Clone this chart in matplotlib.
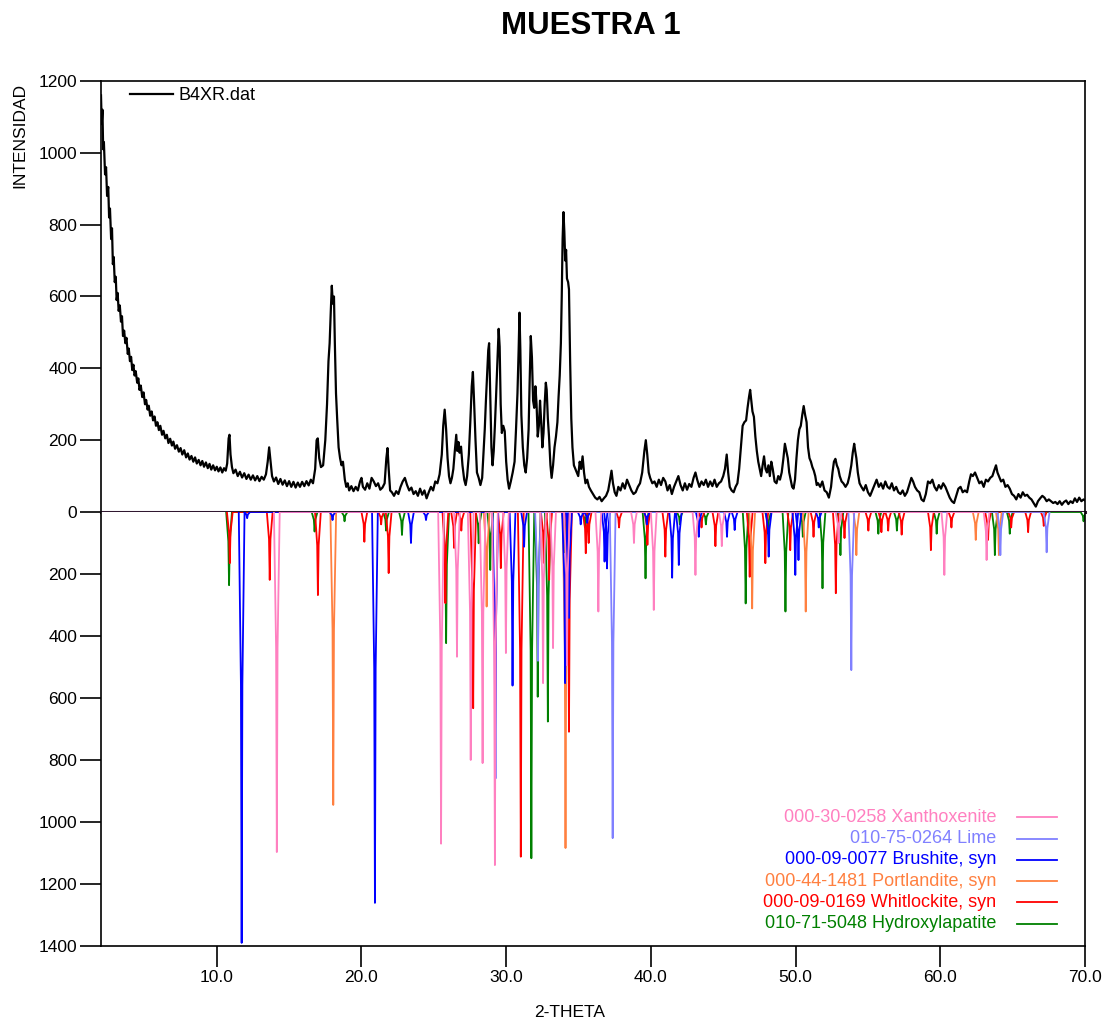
import matplotlib
matplotlib.use("Agg")
import matplotlib.pyplot as plt

plt.rcParams["font.family"] = ["Liberation Sans", "DejaVu Sans"]

two_theta = [
    2.00, 2.05, 2.10, 2.15, 2.20, 2.28, 2.35, 2.42, 2.50, 2.56, 2.62, 2.70, 2.76, 2.82, 2.88,
    2.95, 3.02, 3.08, 3.15, 3.22, 3.30, 3.38, 3.45, 3.52, 3.60, 3.68, 3.76, 3.85, 3.92, 4.00,
    4.08, 4.16, 4.24, 4.32, 4.40, 4.50, 4.58, 4.66, 4.75, 4.85, 4.94, 5.04, 5.12, 5.22, 5.30,
    5.40, 5.50, 5.60, 5.70, 5.80, 5.90, 6.00, 6.10, 6.22, 6.32, 6.44, 6.55, 6.66, 6.78, 6.90,
    7.00, 7.12, 7.25, 7.38, 7.50, 7.62, 7.75, 7.88, 8.00, 8.12, 8.25, 8.38, 8.50, 8.62, 8.75,
    8.88, 9.00, 9.12, 9.25, 9.38, 9.50, 9.62, 9.75, 9.88, 10.00, 10.12, 10.25, 10.38, 10.50,
    10.62, 10.72, 10.82, 10.88, 10.95, 11.05, 11.15, 11.30, 11.45, 11.60, 11.75, 11.90, 12.05,
    12.20, 12.35, 12.50, 12.65, 12.80, 12.95, 13.10, 13.25, 13.40, 13.52, 13.62, 13.72, 13.82,
    13.95, 14.10, 14.25, 14.40, 14.55, 14.70, 14.85, 15.00, 15.15, 15.30, 15.45, 15.60, 15.75,
    15.90, 16.05, 16.20, 16.35, 16.50, 16.65, 16.80, 16.90, 16.98, 17.08, 17.20, 17.35, 17.50,
    17.62, 17.72, 17.80, 17.88, 17.95, 18.02, 18.10, 18.16, 18.24, 18.32, 18.42, 18.52, 18.62,
    18.72, 18.85, 18.95, 19.05, 19.15, 19.30, 19.45, 19.60, 19.75, 19.90, 20.00, 20.10, 20.25,
    20.40, 20.55, 20.70, 20.85, 21.00, 21.15, 21.30, 21.45, 21.60, 21.72, 21.80, 21.88, 21.98,
    22.10, 22.25, 22.40, 22.55, 22.70, 22.85, 23.00, 23.15, 23.30, 23.45, 23.60, 23.75, 23.90,
    24.05, 24.20, 24.35, 24.50, 24.65, 24.80, 24.95, 25.10, 25.25, 25.40, 25.55, 25.65, 25.75,
    25.85, 25.95, 26.05, 26.15, 26.25, 26.35, 26.45, 26.55, 26.62, 26.70, 26.78, 26.88, 26.98,
    27.10, 27.20, 27.30, 27.42, 27.52, 27.62, 27.70, 27.78, 27.88, 27.98, 28.10, 28.22, 28.34,
    28.44, 28.52, 28.60, 28.68, 28.76, 28.82, 28.90, 28.98, 29.06, 29.14, 29.22, 29.30, 29.40,
    29.48, 29.55, 29.62, 29.70, 29.80, 29.90, 30.00, 30.10, 30.20, 30.32, 30.45, 30.58, 30.68,
    30.78, 30.86, 30.92, 30.98, 31.05, 31.15, 31.25, 31.35, 31.45, 31.55, 31.62, 31.70, 31.78,
    31.86, 31.94, 32.02, 32.10, 32.18, 32.26, 32.34, 32.42, 32.50, 32.58, 32.66, 32.74, 32.80,
    32.88, 32.96, 33.06, 33.14, 33.24, 33.34, 33.44, 33.54, 33.62, 33.70, 33.78, 33.84, 33.90,
    33.96, 34.02, 34.08, 34.14, 34.20, 34.28, 34.34, 34.42, 34.50, 34.58, 34.68, 34.78, 34.88,
    34.98, 35.08, 35.18, 35.28, 35.38, 35.48, 35.60, 35.72, 35.85, 36.00, 36.15, 36.30, 36.45,
    36.60, 36.75, 36.90, 37.05, 37.18, 37.28, 37.38, 37.50, 37.62, 37.75, 37.90, 38.05, 38.20,
    38.35, 38.50, 38.65, 38.80, 38.95, 39.10, 39.25, 39.40, 39.55, 39.65, 39.75, 39.85, 39.95,
    40.10, 40.25, 40.40, 40.55, 40.70, 40.85, 41.00, 41.15, 41.30, 41.45, 41.60, 41.75, 41.90,
    42.05, 42.20, 42.35, 42.50, 42.65, 42.80, 42.95, 43.08, 43.20, 43.35, 43.50, 43.65, 43.80,
    43.95, 44.10, 44.25, 44.40, 44.55, 44.70, 44.85, 45.00, 45.12, 45.24, 45.34, 45.45, 45.58,
    45.72, 45.85, 45.98, 46.10, 46.22, 46.34, 46.46, 46.58, 46.68, 46.78, 46.86, 46.94, 47.02,
    47.12, 47.22, 47.32, 47.42, 47.52, 47.62, 47.72, 47.82, 47.92, 48.02, 48.12, 48.22, 48.32,
    48.42, 48.55, 48.68, 48.80, 48.92, 49.04, 49.16, 49.26, 49.36, 49.46, 49.56, 49.66, 49.76,
    49.86, 49.96, 50.06, 50.16, 50.26, 50.36, 50.46, 50.56, 50.66, 50.76, 50.86, 50.96, 51.06,
    51.16, 51.26, 51.36, 51.46, 51.56, 51.70, 51.85, 52.00, 52.15, 52.30, 52.45, 52.55, 52.65,
    52.75, 52.85, 52.95, 53.05, 53.18, 53.30, 53.45, 53.60, 53.72, 53.85, 53.95, 54.05, 54.12,
    54.20, 54.30, 54.42, 54.55, 54.70, 54.85, 55.00, 55.15, 55.30, 55.45, 55.60, 55.75, 55.90,
    56.05, 56.20, 56.35, 56.50, 56.65, 56.80, 56.95, 57.10, 57.25, 57.40, 57.55, 57.70, 57.85,
    58.00, 58.12, 58.25, 58.40, 58.55, 58.70, 58.85, 59.00, 59.15, 59.30, 59.45, 59.60, 59.75,
    59.90, 60.05, 60.20, 60.35, 60.50, 60.65, 60.80, 60.95, 61.10, 61.25, 61.40, 61.55, 61.70,
    61.85, 62.00, 62.12, 62.25, 62.40, 62.55, 62.70, 62.85, 63.00, 63.15, 63.30, 63.45, 63.60,
    63.72, 63.85, 63.95, 64.05, 64.20, 64.35, 64.50, 64.65, 64.80, 64.95, 65.10, 65.25, 65.40,
    65.55, 65.70, 65.85, 66.00, 66.15, 66.30, 66.45, 66.60, 66.75, 66.90, 67.05, 67.20, 67.35,
    67.50, 67.65, 67.80, 67.95, 68.10, 68.25, 68.40, 68.55, 68.70, 68.85, 69.00, 69.15, 69.30,
    69.45, 69.60, 69.75, 69.90, 70.00,
]
intensity = [
    1160, 1080, 1120, 1010, 1030, 940, 960, 880, 905, 820, 845, 760, 790, 690, 710,
    640, 655, 590, 610, 560, 575, 530, 545, 490, 505, 470, 485, 440, 455, 420,
    432, 395, 410, 380, 392, 360, 372, 340, 352, 320, 333, 300, 312, 285, 296,
    268, 280, 255, 266, 240, 250, 228, 240, 215, 226, 205, 215, 192, 204, 185,
    196, 176, 186, 168, 178, 160, 172, 152, 163, 146, 156, 140, 152, 135, 145,
    130, 142, 126, 138, 122, 134, 118, 130, 116, 126, 113, 124, 110, 122,
    115, 135, 205, 215, 160, 125, 108, 118, 100, 112, 96, 108, 92,
    104, 90, 102, 88, 100, 86, 98, 90, 105, 140, 180, 140, 100,
    85, 96, 78, 92, 76, 88, 72, 86, 70, 84, 68, 82, 70,
    84, 72, 86, 74, 90, 80, 120, 200, 205, 150, 125, 130, 200,
    300, 420, 470, 560, 630, 580, 600, 470, 330, 260, 180, 150, 130,
    140, 90, 70, 80, 60, 72, 58, 70, 60, 85, 95, 70, 62,
    80, 65, 95, 85, 72, 80, 62, 68, 80, 150, 178, 120, 60,
    55, 45, 58, 50, 70, 85, 95, 75, 60, 68, 50, 58, 45,
    65, 48, 60, 38, 55, 70, 60, 85, 80, 105, 160, 240, 285,
    230, 150, 100, 80, 95, 120, 170, 215, 170, 195, 165, 182, 130,
    90, 75, 100, 160, 250, 350, 390, 310, 200, 110, 95, 75, 95,
    170, 230, 310, 380, 450, 470, 330, 180, 130, 170, 240, 320, 430,
    510, 460, 300, 220, 240, 225, 140, 90, 65, 85, 110, 140, 230,
    330, 450, 555, 450, 270, 180, 130, 110, 150, 230, 360, 490, 430,
    310, 290, 350, 300, 210, 240, 310, 250, 180, 220, 300, 360, 340,
    260, 210, 130, 95, 130, 180, 210, 250, 320, 380, 470, 600, 760,
    835, 780, 700, 730, 650, 640, 620, 420, 260, 180, 130, 120, 110,
    100, 140, 120, 155, 110, 80, 90, 70, 60, 50, 40, 35, 42,
    30, 38, 45, 60, 90, 115, 80, 55, 45, 70, 60, 80, 65,
    90, 75, 60, 50, 55, 70, 80, 110, 170, 200, 160, 110, 95,
    80, 85, 70, 90, 75, 95, 85, 60, 75, 50, 70, 85, 100,
    75, 60, 80, 62, 78, 70, 95, 110, 90, 70, 85, 75, 90,
    70, 85, 72, 90, 70, 80, 85, 100, 120, 160, 110, 70, 60,
    55, 70, 80, 120, 180, 240, 250, 255, 290, 320, 340, 310, 280,
    265, 210, 170, 140, 120, 100, 130, 155, 120, 110, 130, 100, 140,
    120, 85, 80, 100, 90, 110, 150, 190, 170, 150, 110, 90, 70,
    65, 90, 150, 200, 230, 240, 270, 295, 270, 250, 180, 150, 140,
    125, 115, 100, 75, 80, 70, 85, 60, 55, 40, 70, 110, 140,
    148, 130, 120, 100, 85, 80, 70, 80, 100, 130, 165, 190, 170,
    150, 110, 80, 70, 60, 75, 55, 45, 60, 75, 90, 70, 80,
    65, 85, 70, 65, 80, 60, 70, 55, 50, 60, 45, 55, 75,
    95, 85, 70, 60, 55, 35, 30, 50, 85, 80, 90, 70, 60,
    75, 65, 80, 70, 55, 40, 30, 25, 45, 65, 70, 55, 60,
    55, 85, 105, 100, 110, 95, 80, 85, 70, 90, 85, 95, 100,
    115, 130, 110, 100, 85, 90, 70, 75, 65, 50, 45, 35, 50,
    40, 55, 45, 48, 40, 35, 25, 15, 30, 38, 45, 40, 30,
    35, 30, 25, 28, 22, 30, 20, 28, 32, 22, 30, 25, 38,
    28, 40, 30, 35, 32,
]

# reference cards: peak positions (2-theta) and drawn intensity
xanthoxenite_pos = [14.15, 25.50, 26.60, 27.55, 28.37, 29.22, 29.98, 32.55, 33.24, 34.20,
                    36.37, 38.83, 40.20, 43.08, 44.90, 52.97, 60.28, 63.20]
xanthoxenite_int = [1097, 1070, 467, 800, 810, 1139, 455, 552, 439, 494,
                    321, 100, 316, 203, 110, 100, 203, 155]

lime_pos = [32.20, 37.36, 53.85, 64.15, 67.35]
lime_int = [480, 1052, 510, 139, 130]

brushite_pos = [11.72, 12.10, 18.00, 20.93, 23.42, 24.46, 29.25, 30.44, 31.24, 34.07,
                34.34, 35.15, 35.60, 36.80, 36.97, 39.72, 41.47, 41.93, 43.31, 45.26,
                45.79, 48.14, 49.98, 50.20, 51.60]
brushite_int = [1390, 20, 26, 1261, 100, 26, 860, 560, 112, 552,
                342, 40, 35, 160, 182, 40, 212, 171, 80, 80,
                58, 144, 203, 155, 50]

portlandite_pos = [18.05, 28.65, 34.10, 47.00, 50.70, 54.20, 62.45, 64.05]
portlandite_int = [945, 305, 1084, 311, 321, 139, 90, 139]

whitlockite_pos = [10.90, 13.66, 16.99, 20.20, 21.36, 21.88, 25.80, 26.40, 26.90, 27.72,
                   29.63, 31.01, 32.60, 32.97, 34.34, 35.50, 35.70, 37.80, 39.76, 41.00,
                   43.50, 44.46, 46.83, 47.91, 49.63, 51.24, 52.78, 53.38, 55.03, 55.93,
                   56.40, 57.33, 59.35, 60.77, 63.30, 64.90, 66.07, 67.15]
whitlockite_int = [165, 219, 268, 96, 40, 197, 294, 116, 60, 633,
                   181, 1112, 164, 219, 709, 133, 100, 50, 106, 144,
                   50, 110, 209, 165, 123, 80, 262, 84, 60, 65,
                   60, 73, 123, 50, 90, 50, 65, 45]

hydroxylapatite_pos = [10.85, 16.76, 18.83, 21.70, 22.80, 25.85, 28.10, 28.90, 31.74, 32.18,
                       32.88, 34.05, 35.45, 39.63, 42.00, 43.80, 46.55, 48.10, 49.30, 50.50,
                       51.86, 53.10, 55.72, 57.00, 59.75, 63.77, 64.80, 69.90]
hydroxylapatite_int = [236, 63, 30, 60, 74, 423, 101, 187, 1117, 596,
                       676, 130, 50, 214, 40, 40, 295, 70, 321, 80,
                       246, 139, 70, 60, 70, 139, 70, 30]

card_labels = [
    "000-30-0258 Xanthoxenite",
    "010-75-0264 Lime",
    "000-09-0077 Brushite, syn",
    "000-44-1481 Portlandite, syn",
    "000-09-0169 Whitlockite, syn",
    "010-71-5048 Hydroxylapatite",
]
card_colors = ["#FF80C0", "#8080FF", "#0000FF", "#FF8040", "#FF0000", "#008000"]
card_peaks = [
    (xanthoxenite_pos, xanthoxenite_int),
    (lime_pos, lime_int),
    (brushite_pos, brushite_int),
    (portlandite_pos, portlandite_int),
    (whitlockite_pos, whitlockite_int),
    (hydroxylapatite_pos, hydroxylapatite_int),
]


def peak_outline(pos, height):
    # narrow peak shape around each stick, joined along the zero line
    offsets = [-0.2, -0.05, 0.0, 0.05, 0.2]
    scale = [0.0, 0.4, 1.0, 0.4, 0.0]
    xs, ys = [], []
    for p, h in sorted(zip(pos, height)):
        xs += [p + o for o in offsets]
        ys += [h * s for s in scale]
    return xs, ys


fig = plt.figure(figsize=(11.09, 10.24), dpi=100)
left, width = 101 / 1109, 984 / 1109
ax_top = fig.add_axes([left, 0.5, width, 0.4209])
ax_bot = fig.add_axes([left, 0.0762, width, 0.4238], sharex=ax_top)

ax_top.plot(two_theta, intensity, color="black", lw=1.6, label="B4XR.dat")
ax_top.set_ylim(0, 1200)
ax_top.set_yticks(range(0, 1201, 200))
ax_top.set_xlim(2, 70)
ax_top.spines["bottom"].set_visible(False)
ax_top.tick_params(axis="x", bottom=False, labelbottom=False)
ax_top.axhline(0, color="#301830", lw=2.2, zorder=5, clip_on=False)
ax_top.legend(loc="upper left", bbox_to_anchor=(0.0295, 0.985), frameon=False,
              fontsize=13, handlelength=2.4, handletextpad=0.3,
              borderpad=0, borderaxespad=0)

for (pos, height), color in list(zip(card_peaks, card_colors))[::-1]:
    xs, ys = peak_outline(pos, height)
    ax_bot.plot(xs, ys, color=color, lw=1.3)
ax_bot.set_ylim(1400, 0)
ax_bot.set_yticks(range(200, 1401, 200))
ax_bot.spines["top"].set_visible(False)
ax_bot.set_xticks(range(10, 71, 10))
ax_bot.set_xticklabels([f"{v:.1f}" for v in range(10, 71, 10)])

row_top, row_step = 0.2966, 0.0491
for i, (label, color) in enumerate(zip(card_labels, card_colors)):
    y = row_top - i * row_step
    ax_bot.text(0.910, y, label, color=color, fontsize=13, ha="right", va="center",
                transform=ax_bot.transAxes)
    ax_bot.plot([0.9306, 0.9713], [y, y], color=color, lw=1.3, transform=ax_bot.transAxes)

for ax in (ax_top, ax_bot):
    for s in ax.spines.values():
        s.set_linewidth(1.2)
    ax.tick_params(direction="out", length=15, width=1.2, pad=2, labelsize=12.5)

fig.text(0.533, 0.975, "MUESTRA 1", fontsize=22.5, fontweight="bold",
         ha="center", va="center")
fig.text(0.018, 0.868, "INTENSIDAD", fontsize=12.5, rotation=90, ha="center", va="center")
fig.text(0.514, 0.0117, "2-THETA", fontsize=12.5, ha="center", va="center")

fig.savefig("out.png", dpi=100)
